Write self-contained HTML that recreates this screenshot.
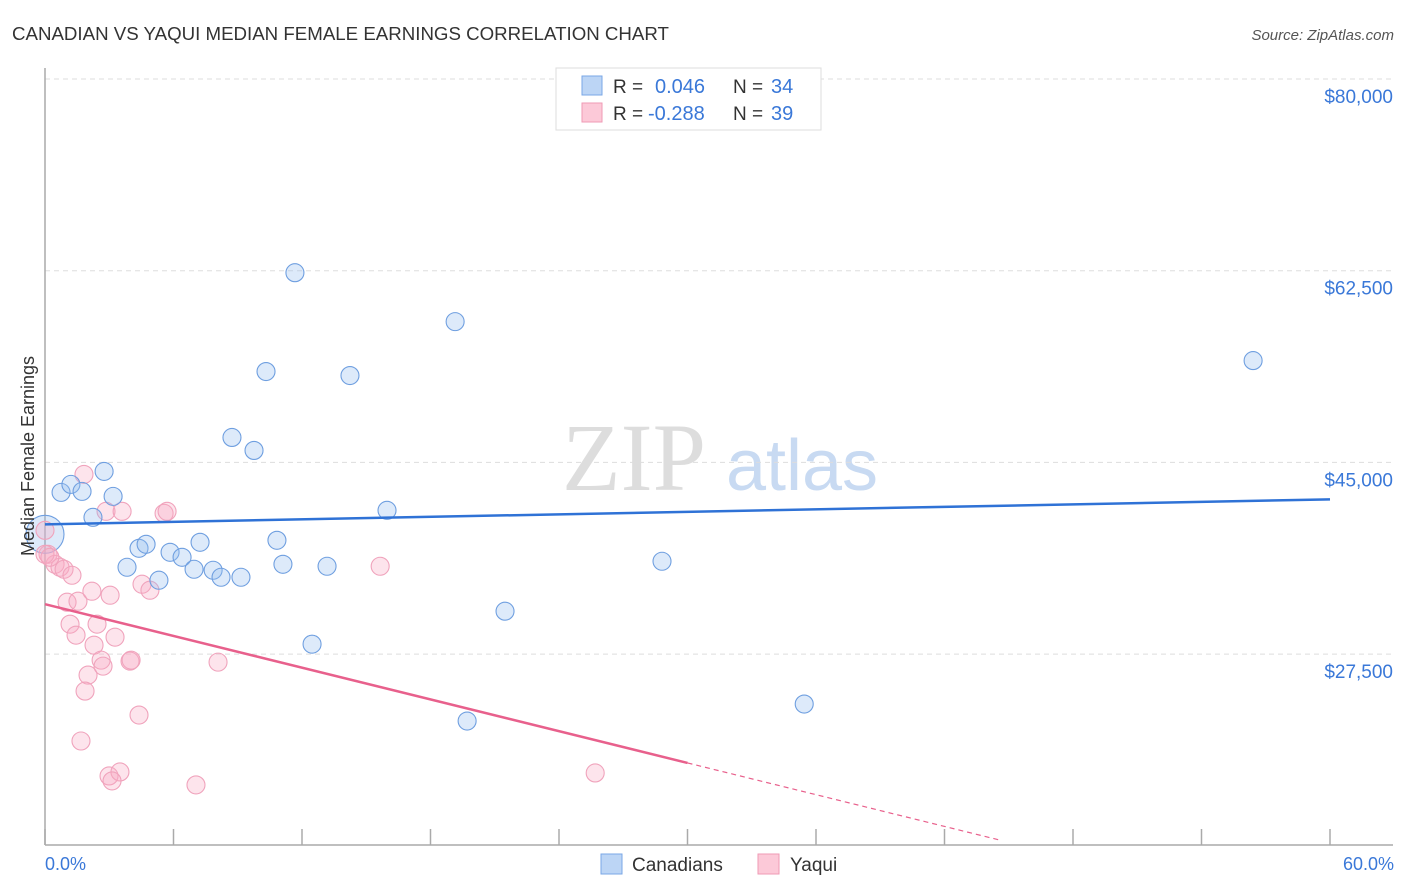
<!DOCTYPE html>
<html><head><meta charset="utf-8"><style>
body{margin:0;background:#fff;font-family:"Liberation Sans",sans-serif;}
svg{display:block}
</style></head><body>
<svg id="chart" width="1406" height="892">
<text x="12" y="40" font-size="18.7" fill="#333">CANADIAN VS YAQUI MEDIAN FEMALE EARNINGS CORRELATION CHART</text>
<text x="1394" y="40" font-size="15" fill="#555" font-style="italic" text-anchor="end">Source: ZipAtlas.com</text>
<text x="634" y="490" font-size="96" fill="#ddd" font-family="Liberation Serif,serif" text-anchor="middle">ZIP</text>
<text x="802" y="490" font-size="72" fill="#c8daf2" text-anchor="middle">atlas</text>
<g id="grid"></g>
<g id="axes"></g>
<g id="marks"></g>
<text transform="translate(34,456) rotate(-90)" font-size="18" fill="#333" text-anchor="middle">Median Female Earnings</text>
<text x="45" y="870" font-size="18" fill="#3a78d8">0.0%</text>
<text x="1394" y="870" font-size="18" fill="#3a78d8" text-anchor="end">60.0%</text>
<g>
<rect x="556" y="68" width="265" height="62" fill="#fff" stroke="#ddd"/>
<rect x="582" y="76" width="20" height="19" fill="#bcd5f5" stroke="#7aa7e6"/>
<rect x="582" y="103" width="20" height="19" fill="#fcc9d8" stroke="#ef9ab5"/>
<text x="613" y="93" font-size="19" fill="#333">R = </text><text x="655" y="93" font-size="20" fill="#3a78d8">0.046</text>
<text x="733" y="93" font-size="19" fill="#333">N = </text><text x="771" y="93" font-size="20" fill="#3a78d8">34</text>
<text x="613" y="120" font-size="19" fill="#333">R = </text><text x="648" y="120" font-size="20" fill="#3a78d8">-0.288</text>
<text x="733" y="120" font-size="19" fill="#333">N = </text><text x="771" y="120" font-size="20" fill="#3a78d8">39</text>
</g>
<g>
<rect x="601" y="854" width="21" height="20" fill="#bcd5f5" stroke="#7aa7e6"/>
<text x="632" y="871" font-size="19" fill="#333">Canadians</text>
<rect x="758" y="854" width="21" height="20" fill="#fcc9d8" stroke="#ef9ab5"/>
<text x="790" y="871" font-size="19" fill="#333">Yaqui</text>
</g>
</svg>
<script>
const yTicks=[80000,62500,45000,27500];
const yTickLabels=["$80,000","$62,500","$45,000","$27,500"];
const xTicks=[0,6,12,18,24,30,36,42,48,54,60];
const blueX=[11.67,19.15,10.32,14.24,56.41,8.73,9.76,2.76,0.75,1.21,1.73,3.18,2.24,15.97,4.39,4.72,5.84,6.40,7.24,10.83,3.83,5.32,6.96,7.85,8.22,9.15,11.11,13.17,28.81,21.48,12.47,19.71,35.45];
const blueY=[62317,57851,53293,52928,54296,47277,46092,44178,42264,42993,42355,41899,39985,40623,37159,37524,36795,36339,37706,37889,35428,34243,35245,35154,34516,34516,35701,35519,35975,31417,28409,21391,22940];
const blueBig=[0,38436];
const pinkX=[1.82,2.85,3.60,5.56,5.70,0.14,0.47,0.70,0.89,1.26,1.03,1.54,2.19,3.04,4.53,4.90,1.17,1.45,2.43,2.29,3.27,2.62,3.97,4.02,8.08,2.01,2.71,1.87,4.39,1.68,2.99,3.50,3.13,7.05,25.69,15.65,0,0,0.23];
const pinkY=[43905,40532,40532,40350,40532,36613,35701,35428,35245,34698,32237,32328,33240,32875,33878,33331,30232,29229,30232,28318,29047,26951,26860,26951,26768,25583,26403,24125,21937,19568,16377,16742,15922,15557,16651,35519,38800,36613,36340];
const blueTrend=[39347,41626];
const pinkTrend=[32055,-483];
const X=v=>45+v/60*1285;
const Y=v=>79+(80000-v)/17500*191.7;
const NS="http://www.w3.org/2000/svg";
function mk(parent,tag,attrs){const e=document.createElementNS(NS,tag);for(const k in attrs)e.setAttribute(k,attrs[k]);document.getElementById(parent).appendChild(e);return e;}
yTicks.forEach((t,i)=>{
 const l=mk('grid','line',{x1:45,x2:1393,y1:Y(t),y2:Y(t),stroke:'#ddd','stroke-dasharray':'5,4'});
 
 
 const tx=mk('grid','text',{x:1393,y:Y(t)+24,'font-size':19,fill:'#3a78d8','text-anchor':'end'});
 tx.textContent=yTickLabels[i];
 
 
});
const ax=mk('axes','line',{x1:45,x2:45,y1:68,y2:845,stroke:'#aaa','stroke-width':1.5});


const bx=mk('axes','line',{x1:45,x2:1393,y1:845,y2:845,stroke:'#aaa','stroke-width':1.5});


xTicks.forEach(t=>{
 const tk=mk('axes','line',{x1:X(t),x2:X(t),y1:829,y2:845,stroke:'#aaa','stroke-width':1.5});
 
 
});
function dot(x,y,r,cls){
 const c=mk('marks','circle',{cx:X(x),cy:Y(y),r:r,fill:cls=='b'?'rgba(150,190,240,0.32)':'rgba(248,170,195,0.32)',stroke:cls=='b'?'#6f9fe0':'#f0a3bc','stroke-width':1.1});
 
 
}
const bb=mk('marks','circle',{cx:X(blueBig[0]),cy:Y(blueBig[1]),r:19,fill:'rgba(150,190,240,0.32)',stroke:'#6f9fe0','stroke-width':1.1});


pinkX.forEach((x,i)=>dot(x,pinkY[i],9,'p'));
blueX.forEach((x,i)=>dot(x,blueY[i],9,'b'));
const bl=mk('marks','line',{x1:X(0),y1:Y(blueTrend[0]),x2:X(60),y2:Y(blueTrend[1]),stroke:'#2f72d6','stroke-width':2.5});


const pl=mk('marks','line',{x1:X(0),y1:Y(pinkTrend[0]),x2:X(30),y2:Y(pinkTrend[0]+pinkTrend[1]*30),stroke:'#e8608c','stroke-width':2.5});


const pd=mk('marks','line',{x1:X(30),y1:Y(pinkTrend[0]+pinkTrend[1]*30),x2:X(44.6),y2:Y(pinkTrend[0]+pinkTrend[1]*44.6),stroke:'#e8608c','stroke-width':1.2,'stroke-dasharray':'5,4'});


</script>
</body></html>
